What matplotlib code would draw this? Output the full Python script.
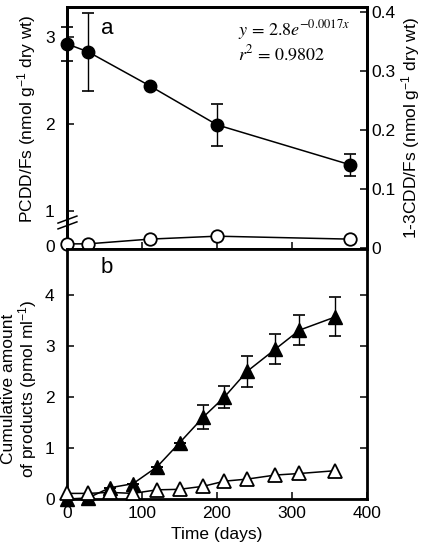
import numpy as np
import matplotlib
matplotlib.use("Agg")
import matplotlib.pyplot as plt
from matplotlib.transforms import blended_transform_factory

plt.rcParams['font.family'] = ['Liberation Sans', 'DejaVu Sans']
plt.rcParams['mathtext.fontset'] = 'custom'
plt.rcParams['mathtext.rm'] = 'Liberation Sans'
plt.rcParams['mathtext.default'] = 'regular'

# panel a: PCDD/Fs (left axis) and 1-3CDD/Fs (right axis)
days_a = [0, 28, 110, 200, 378]
pcdd = [2.92, 2.83, 2.44, 1.99, 1.53]
pcdd_err = [0.2, 0.45, 0.0, 0.245, 0.125]
cdd13 = [0.007, 0.007, 0.015, 0.02, 0.015]

# panel b: cumulative amount of products
days_b = [0, 28, 57, 88, 120, 150, 182, 210, 240, 278, 310, 358]
prod_filled = [0.0, 0.02, 0.22, 0.3, 0.63, 1.1, 1.61, 2.0, 2.5, 2.94, 3.31, 3.57]
prod_filled_err = [0, 0, 0, 0, 0, 0, 0.23, 0.22, 0.31, 0.3, 0.3, 0.38]
prod_open = [0.11, 0.11, 0.13, 0.11, 0.18, 0.19, 0.25, 0.35, 0.39, 0.47, 0.5, 0.555]

left_ticks = [1, 2, 3]
right_ticks = [0, 0.1, 0.2, 0.3, 0.4]
right_labels = ['0', '0.1', '0.2', '0.3', '0.4']
b_ticks = [0, 1, 2, 3, 4]
x_ticks = [0, 100, 200, 300, 400]

fs = 12.5
fig = plt.figure(figsize=(4.23, 5.44), dpi=100)
ax = fig.add_axes([0.1584, 0.5423, 0.7092, 0.4449])
ax2 = ax.twinx()
axb = fig.add_axes([0.1584, 0.0827, 0.7092, 0.4596])

for a in (ax, ax2, axb):
    for s in a.spines.values():
        s.set_linewidth(2.0)

# --- panel a
ax.errorbar(days_a, pcdd, yerr=pcdd_err, fmt='-o', color='black', mfc='black',
            ms=9, lw=1.1, elinewidth=1.0, capsize=4.5, capthick=1.2,
            clip_on=False, zorder=4)
ax2.plot(days_a, cdd13, '-o', color='black', mfc='white', mew=1.3, ms=9,
         lw=1.1, clip_on=False, zorder=4)
ax.set_xlim(0, 400)
ax.set_ylim(0.563, 3.345)
ax2.set_ylim(-0.0017, 0.4085)
ax.set_yticks(left_ticks)
ax.set_yticklabels([str(t) for t in left_ticks])
ax.set_xticks([100, 200, 300])
ax.tick_params(axis='x', direction='in', length=5, width=1.1, labelbottom=False)
ax.tick_params(axis='y', direction='in', length=5, width=1.1, labelsize=fs, pad=9)
ax2.set_yticks(right_ticks)
ax2.set_yticklabels(right_labels)
ax2.tick_params(axis='y', direction='in', length=5, width=1.1, labelsize=fs, pad=3)

tr = blended_transform_factory(ax.transAxes, ax2.transData)
ax.text(-0.04, 0.0, '0', transform=tr, ha='right', va='center', fontsize=fs)
# axis break marks
for y0 in (0.083, 0.107):
    ax.plot([-0.03, 0.033], [y0, y0 + 0.029], color='black', lw=1.1,
            transform=ax.transAxes, clip_on=False, zorder=5)

ax.set_ylabel('PCDD/Fs (nmol g$^{-1}$ dry wt)', fontsize=fs)
ax.yaxis.set_label_coords(-0.097, 0.54)
ax2.set_ylabel('1-3CDD/Fs (nmol g$^{-1}$ dry wt)', fontsize=fs)
ax2.yaxis.set_label_coords(1.108, 0.5)
ax.text(0.133, 0.913, 'a', transform=ax.transAxes, fontsize=16,
        ha='center', va='center')
eq = (r'$\mathit{y}\,\mathrm{=}\,\mathrm{2.8}\mathit{e}^{\mathrm{-0.0017}\mathit{x}}$'
      '\n'
      r'$\mathit{r}^{\mathrm{2}}\,\mathrm{=}\,\mathrm{0.9802}$')
ax.text(0.57, 0.955, eq, transform=ax.transAxes, fontsize=13, va='top',
        ha='left', linespacing=1.05, math_fontfamily='stix')

# --- panel b
axb.errorbar(days_b, prod_filled, yerr=prod_filled_err, fmt='-^', color='black',
             mfc='black', ms=9.5, lw=1.1, elinewidth=1.0, capsize=4.5,
             capthick=1.2, clip_on=False, zorder=4)
axb.plot(days_b, prod_open, '-^', color='black', mfc='white', mew=1.3, ms=9.5,
         lw=1.1, clip_on=False, zorder=5)
axb.set_xlim(0, 400)
axb.set_ylim(0, 4.9)
axb.set_xticks(x_ticks)
axb.set_xticklabels([str(t) for t in x_ticks])
axb.set_yticks(b_ticks)
axb.set_yticklabels([str(t) for t in b_ticks])
axb.tick_params(direction='in', length=5, width=1.1, labelsize=fs, right=True)
axb.tick_params(axis='y', pad=9)
axb.tick_params(axis='x', pad=5)
axb.set_xlabel('Time (days)', fontsize=fs, labelpad=4)
axb.set_ylabel('Cumulative amount\nof products (pmol ml$^{-1}$)', fontsize=fs,
               linespacing=1.0)
axb.yaxis.set_label_coords(-0.093, 0.44)
axb.text(0.133, 0.924, 'b', transform=axb.transAxes, fontsize=16,
         ha='center', va='center')

fig.savefig('out.png', dpi=100)
